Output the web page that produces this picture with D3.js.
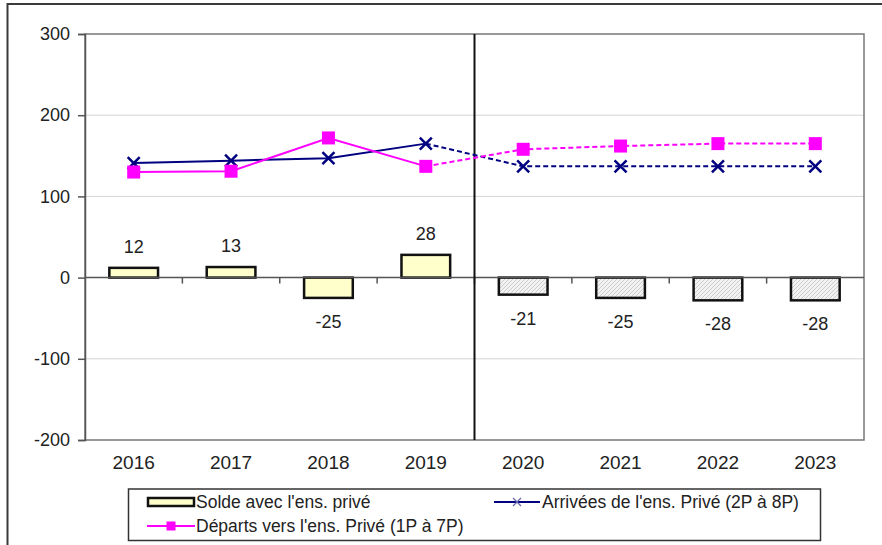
<!DOCTYPE html>
<html>
<head>
<meta charset="utf-8">
<script src="https://cdn.jsdelivr.net/npm/d3@7"></script>
<style>
  body { margin: 0; background: #fff; }
  svg { display: block; font-family: "Liberation Sans", Arial, sans-serif; }
</style>
</head>
<body>
<div id="chart"></div>
<script>
var width = 882;
var height = 545;

var years = ['2016', '2017', '2018', '2019', '2020', '2021', '2022', '2023'];
var solde = [12, 13, -25, 28, -21, -25, -28, -28];
var arrivees = [141, 144, 147, 165, 137, 137, 137, 137];
var departs = [130, 131, 172, 137, 158, 162, 165, 165];
var yTicks = [-200, -100, 0, 100, 200, 300];
var lastActual = '2019';   // after this, projections (dashed / hatched)

var legendItems = ['Solde avec l\'ens. privé', 'Arrivées de l\'ens. Privé (2P à 8P)', 'Départs vers l\'ens. Privé (1P à 7P)'];

var plot = {left: 85, right: 864, top: 34, bottom: 440};

var x = d3.scaleBand().domain(years).range([plot.left, plot.right]).padding(0);
var y = d3.scaleLinear().domain([-200, 300]).range([plot.bottom, plot.top]);
var barW = x.bandwidth() * 0.5;
var cx = d => x(d) + x.bandwidth() / 2;
var lastIdx = years.indexOf(lastActual);

var svg = d3.select('#chart').append('svg')
  .attr('width', width).attr('height', height);

// hatch for projected bars
var pat = svg.append('defs').append('pattern')
  .attr('id', 'hatch').attr('patternUnits', 'userSpaceOnUse')
  .attr('width', 4).attr('height', 4);
pat.append('rect').attr('width', 4).attr('height', 4).attr('fill', '#f2f2f2');
pat.append('path').attr('d', 'M-1,1 l2,-2 M0,4 l4,-4 M3,5 l2,-2')
  .attr('stroke', '#cdcdcd').attr('stroke-width', 1);

// outer frame (runs off canvas on right / bottom)
svg.append('rect')
  .attr('x', 7.5).attr('y', 4).attr('width', 900).attr('height', 600)
  .attr('fill', 'none').attr('stroke', '#3a3a3a').attr('stroke-width', 2);

// gridlines
svg.append('g').selectAll('line')
  .data(yTicks.filter(d => d !== 0 && d !== 300 && d !== -200))
  .enter().append('line')
  .attr('x1', plot.left).attr('x2', plot.right)
  .attr('y1', d => y(d)).attr('y2', d => y(d))
  .attr('stroke', '#d4d4d4').attr('stroke-width', 1);

// plot frame
svg.append('rect')
  .attr('x', plot.left).attr('y', plot.top)
  .attr('width', plot.right - plot.left).attr('height', plot.bottom - plot.top)
  .attr('fill', 'none').attr('stroke', '#777').attr('stroke-width', 1.5);

// y axis
var yAxis = svg.append('g')
  .attr('transform', `translate(${plot.left},0)`)
  .call(d3.axisLeft(y).tickValues(yTicks).tickSize(7).tickPadding(8)
    .tickFormat(d => String(d)));
yAxis.select('.domain').attr('stroke', '#555').attr('stroke-width', 1.5);
yAxis.selectAll('.tick line').attr('stroke', '#555').attr('stroke-width', 1.5);
yAxis.selectAll('.tick text')
  .attr('font-size', '18px').attr('fill', '#222')
  .attr('font-family', '"Liberation Sans", Arial, sans-serif');

// x labels
svg.append('g').selectAll('text')
  .data(years).enter().append('text')
  .attr('x', d => cx(d)).attr('y', 469)
  .attr('text-anchor', 'middle')
  .attr('font-size', '19px').attr('fill', '#222')
  .text(d => d);

// bars
svg.append('g').selectAll('rect')
  .data(years).enter().append('rect')
  .attr('x', d => cx(d) - barW / 2)
  .attr('y', (d, i) => y(Math.max(0, solde[i])))
  .attr('width', barW)
  .attr('height', (d, i) => Math.abs(y(solde[i]) - y(0)))
  .attr('fill', (d, i) => i > lastIdx ? 'url(#hatch)' : '#ffffcc')
  .attr('stroke', '#111').attr('stroke-width', 2.5);

// zero line with ticks between categories
svg.append('line')
  .attr('x1', plot.left).attr('x2', plot.right)
  .attr('y1', y(0)).attr('y2', y(0))
  .attr('stroke', '#555').attr('stroke-width', 1.5);
svg.append('g').selectAll('line')
  .data(years.slice(1)).enter().append('line')
  .attr('x1', d => x(d)).attr('x2', d => x(d))
  .attr('y1', y(0)).attr('y2', y(0) + 6)
  .attr('stroke', '#555').attr('stroke-width', 1.5);

// bar value labels
svg.append('g').selectAll('text')
  .data(years).enter().append('text')
  .attr('x', d => cx(d))
  .attr('y', (d, i) => solde[i] >= 0 ? y(solde[i]) - 15 : y(solde[i]) + 30)
  .attr('text-anchor', 'middle')
  .attr('font-size', '18px').attr('fill', '#222')
  .text((d, i) => solde[i]);

// separator between actual and projected
svg.append('line')
  .attr('x1', x(years[lastIdx + 1])).attr('x2', x(years[lastIdx + 1]))
  .attr('y1', plot.top).attr('y2', plot.bottom)
  .attr('stroke', '#111').attr('stroke-width', 2);

// lines
var line = d3.line().x(d => cx(d.year)).y(d => y(d.v));
function drawSeries(vals, color) {
  var pts = years.map((yr, i) => ({year: yr, v: vals[i]}));
  svg.append('path').datum(pts.slice(0, lastIdx + 1))
    .attr('d', line).attr('fill', 'none')
    .attr('stroke', color).attr('stroke-width', 2);
  svg.append('path').datum(pts.slice(lastIdx))
    .attr('d', line).attr('fill', 'none')
    .attr('stroke', color).attr('stroke-width', 2)
    .attr('stroke-dasharray', '5,3');
  return pts;
}

var arrPts = drawSeries(arrivees, '#000080');
var depPts = drawSeries(departs, '#ff00ff');

// markers
svg.append('g').selectAll('path')
  .data(arrPts).enter().append('path')
  .attr('d', d => {
    var px = cx(d.year), py = y(d.v), s = 6;
    return `M${px - s},${py - s}L${px + s},${py + s}M${px - s},${py + s}L${px + s},${py - s}`;
  })
  .attr('stroke', '#000080').attr('stroke-width', 2.5);

svg.append('g').selectAll('rect')
  .data(depPts).enter().append('rect')
  .attr('x', d => cx(d.year) - 6.5).attr('y', d => y(d.v) - 6.5)
  .attr('width', 13).attr('height', 13)
  .attr('fill', '#ff00ff');

// legend
var lg = svg.append('g');
lg.append('rect')
  .attr('x', 128.5).attr('y', 489).attr('width', 692).attr('height', 51.5)
  .attr('fill', '#fff').attr('stroke', '#333').attr('stroke-width', 1.5);

// item 1: bar
lg.append('rect')
  .attr('x', 148).attr('y', 498).attr('width', 46).attr('height', 8)
  .attr('fill', '#ffffcc').attr('stroke', '#111').attr('stroke-width', 2.5);
lg.append('text').attr('x', 196).attr('y', 508)
  .attr('font-size', '17.5px').attr('fill', '#222').text(legendItems[0]);

// item 2: arrivées
lg.append('line').attr('x1', 494).attr('x2', 540).attr('y1', 502).attr('y2', 502)
  .attr('stroke', '#000080').attr('stroke-width', 2);
lg.append('path').attr('d', 'M513,498L521,506M513,506L521,498')
  .attr('stroke', '#6666aa').attr('stroke-width', 1.2);
lg.append('text').attr('x', 542).attr('y', 508)
  .attr('font-size', '17.5px').attr('fill', '#222').text(legendItems[1]);

// item 3: départs
lg.append('line').attr('x1', 147).attr('x2', 195).attr('y1', 526).attr('y2', 526)
  .attr('stroke', '#ff00ff').attr('stroke-width', 2);
lg.append('rect').attr('x', 166.5).attr('y', 521.5).attr('width', 9).attr('height', 9)
  .attr('fill', '#ff00ff');
lg.append('text').attr('x', 196).attr('y', 532)
  .attr('font-size', '17.5px').attr('fill', '#222').text(legendItems[2]);
</script>
</body>
</html>
